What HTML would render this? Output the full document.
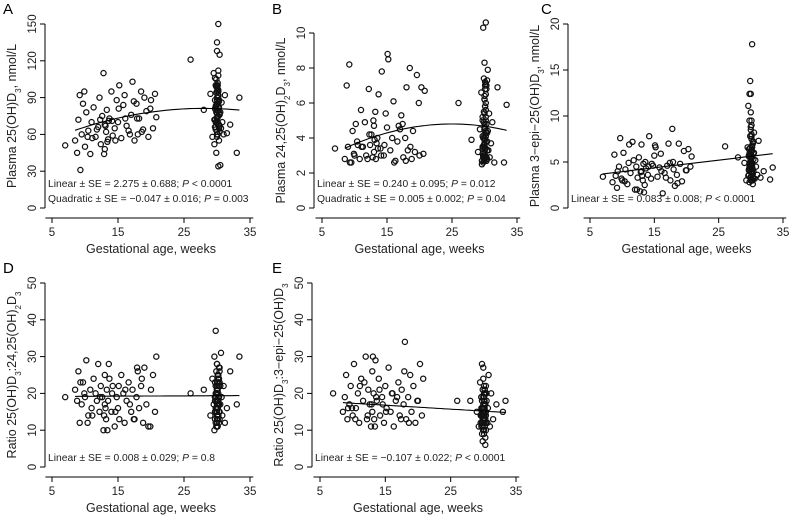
<!DOCTYPE html>
<html><head><meta charset="utf-8"><style>
html,body{margin:0;padding:0;background:#fff;}
svg{display:block;font-family:"Liberation Sans",Arial,sans-serif;}
</style></head><body>
<svg id="fig" width="797" height="515" viewBox="0 0 797 515"></svg>
<script>
// shared gestational ages (weeks)
const gaWeeks = [8.5,8.8,9,9.2,9.5,9.7,10,10.2,10.5,10.8,11,11.3,11.6,12,12.2,12.4,12.6,12.8,13,13,13.2,13.3,13.5,13.7,14,14.2,14.5,14.8,15,15.2,15.5,15.8,16,16.3,16.6,17,17.2,17.5,17.8,18,18.2,18.5,18.8,19,19.3,19.6,20,20.3,20.6,7,9.3,10.4,11.8,12.9,13.4,14.1,15.1,16.8,17.9,18.6,19.9,20.8,12.3,13.1,14.6,16.1,17.4,9.9,11.1,13.6,
26,28,29,29.3,29.5,29.6,29.7,29.8,29.9,29.9,30,30,30,30,30,30,30.1,30.1,30.1,30.2,30.2,30.3,30.3,30.4,30.5,30.6,30.7,30.8,31,31.2,31.5,32,33,33.4,29.8,30,30,30.1,30.2,29.9,30,30.1,30,29.7,30.3,30,30.1,30.5,29.6,30.2,
29.8,30,30.2,30.4,29.9,30.1,30.3,30,29.7,30.2,29.8,30,30.2,30.4,29.9,30.1,30.3,30,29.7,30.2,29.8,30,30.2,30.4,29.9,30.1,30.3,30,29.7,30.2,29.8,30,30.2,30.4,29.9,30.1,30.3,30,29.7,30.2];
const valuesA = [55,45,72,92,60,85,50,78,63,44,70,82,58,66,90,52,75,110,68,48,62,80,56,73,95,59,65,88,70,100,57,84,92,67,63,76,103,55,85,60,73,95,64,90,79,58,88,65,93,51,31,58,64,44,54,71,81,60,73,62,81,74,72,67,55,73,87,95,57,71,
121,80,93,58,110,72,88,66,105,45,80,95,70,135,85,62,75,100,90,68,112,55,82,125,78,65,86,70,60,92,61,68,45,90,100,77,84,74,150,82,98,60,88,72,65,128,75,35,52,34,
70,85,95,62,78,102,88,74,66,92,80,58,108,76,84,97,68,90,72,86,64,100,82,77,94,70,88,60,106,79,83,73,91,67,99,75,87,69,81,96];
const valuesB = [2.8,7.0,3.5,8.2,2.6,4.4,3.0,4.8,3.6,2.8,5.6,3.5,4.9,2.8,6.8,3.6,4.2,2.9,4.7,3.2,5.5,2.8,4.0,6.5,3.4,7.8,3.0,5.4,4.6,8.5,3.3,4.0,6.1,2.7,3.8,4.5,5.3,2.9,4.0,6.9,3.3,8.0,2.8,4.4,3.2,7.6,3.0,6.9,3.1,3.4,2.6,3.8,3.0,5.0,3.7,3.0,8.8,4.7,2.7,3.5,6.0,6.7,4.2,3.9,3.6,2.6,4.8,3.1,3.5,3.4,
6.0,3.9,3.2,4.5,6.6,2.7,5.2,3.5,7.4,2.7,4.0,6.2,3.0,8.3,4.5,2.8,5.8,3.4,7.2,4.1,5.0,2.9,6.8,3.8,4.4,3.3,5.4,2.9,3.7,4.9,2.6,6.9,2.6,5.9,10.3,3.6,4.8,3.0,10.6,5.5,3.2,7.0,4.2,3.5,2.7,6.4,3.9,7.9,2.5,4.3,
3.0,4.2,5.6,2.8,3.6,6.8,4.8,3.2,5.0,2.9,4.0,6.2,3.4,7.3,2.7,4.6,3.8,5.4,3.1,4.4,2.6,3.9,6.0,3.3,4.9,2.8,7.0,3.5,4.1,5.2,2.9,3.7,6.5,4.3,3.0,5.8,2.7,4.5,3.4,7.1];
const valuesC = [2.8,5.8,3.5,2.2,4.5,7.6,3.0,6.0,4.2,2.6,4.9,3.8,7.2,2.0,4.5,3.3,5.5,1.8,4.0,6.9,3.0,4.8,2.5,4.3,3.6,7.8,3.2,4.6,5.7,6.6,3.4,4.4,5.9,1.6,3.8,4.6,7.0,3.0,8.6,4.2,2.4,3.6,7.0,4.8,2.9,6.2,4.1,6.4,4.5,3.4,4.0,2.9,5.2,3.9,1.7,4.5,6.8,3.3,5.0,2.7,4.1,5.6,2.0,3.5,4.8,4.0,4.9,3.2,6.9,5.0,
6.7,5.5,4.9,3.0,6.6,3.5,5.7,2.8,7.8,4.2,5.0,8.5,3.3,10.4,4.6,3.0,6.3,3.8,9.0,4.4,5.5,2.6,7.2,4.0,6.0,3.2,5.2,4.5,3.6,7.3,3.3,4.0,3.1,4.4,12.4,5.8,4.7,3.5,17.8,13.8,6.2,9.5,5.0,4.2,3.0,12.4,4.8,8.2,11.1,5.6,
4.5,5.5,6.8,3.2,5.0,7.5,4.2,5.8,3.6,6.2,4.8,8.8,3.0,5.3,6.5,4.0,7.0,3.4,5.6,4.4,9.5,5.1,3.8,6.0,4.6,7.8,3.3,5.4,4.1,6.6,5.9,3.1,4.9,7.2,4.3,8.0,3.7,5.2,6.4,4.7];
const valuesD = [21,18,26,12,17,23,19,29,14,21,16,24,20,28,15,22,19,10,25,17,13,21,18,24,15,22,11,19,16,13,25,20,12,18,23,15,21,13,19,26,16,22,12,27,17,11,21,25,15,19,23,12,18,14,10,20,22,17,27,24,11,30,19,16,15,21,13,20,14,28,
20,21,14,24,17,30,19,12,26,16,21,14,28,18,11,22,16,25,13,20,18,27,15,23,17,31,19,14,22,12,16,26,17,30,37,20,15,18,24,11,21,17,28,13,19,23,16,22,10,25,
15,18,22,13,20,25,17,12,19,23,16,21,14,27,18,11,24,20,15,17,22,13,19,26,16,21,12,18,23,14,20,17,25,15,19,13,22,16,18,24];
const valuesE = [15,19,25,13,17,22,14,28,16,20,12,24,18,30,13,21,17,11,26,15,20,13,29,18,24,14,19,12,22,16,27,15,20,11,18,23,14,21,17,34,13,19,25,15,22,12,18,28,14,20,16,13,23,17,11,21,15,19,26,12,18,24,14,30,17,20,13,16,22,19,
18,18,15,11,23,14,19,9,21,13,16,24,12,27,15,10,19,13,22,15,17,8,20,14,18,12,16,25,11,20,13,17,15,18,28,14,10,16,21,7,15,18,13,19,6,17,14,20,12,16,
12,15,18,10,14,20,13,16,11,17,14,19,12,22,15,9,17,13,16,11,18,14,21,12,15,10,17,13,19,14,16,12,20,15,11,18,13,16,14,21];
// fit coefficients [a, b, c] : y = a + b*x + c*x^2
const fitA = [44.4, 2.63, -0.047];
const fitB = [1.6125, 0.255, -0.0051];
const fitC = [3.128, 0.083, 0];
const fitD = [19.13, 0.008, 0];
const fitE = [18.4, -0.107, 0];
const xTicks = [5,15,25,35];
const yTicksA = [0,30,60,90,120,150];
const yTicksB = [0,2,4,6,8,10];
const yTicksC = [0,5,10,15,20];
const yTicksR = [0,10,20,30,40,50];

const NS="http://www.w3.org/2000/svg";
const svg=document.getElementById('fig');
function mk(tag,attrs,parent){const e=document.createElementNS(NS,tag);for(const k in attrs)e.setAttribute(k,attrs[k]);(parent||svg).appendChild(e);return e;}

const panels=[
 {id:'a',letter:'A',lx:3,ly:14,axX:45,x5:52,x35:250,y0:208,yTop:24,ticks:yTicksA,vals:valuesA,fit:fitA,
  title:[['Plasma 25(OH)D',''],['3','sub'],[', nmol/L','']],ann:[['Linear ± SE = 2.275 ± 0.688; ','P',' < 0.0001'],['Quadratic ± SE = −0.047 ± 0.016; ','P',' = 0.003']]},
 {id:'b',letter:'B',lx:272,ly:14,axX:314,x5:322,x35:517,y0:208,yTop:33,ticks:yTicksB,vals:valuesB,fit:fitB,
  title:[['Plasma 24,25(OH)',''],['2','sub'],['D',''],['3','sub'],[', nmol/L','']],ann:[['Linear ± SE = 0.240 ± 0.095; ','P',' = 0.012'],['Quadratic ± SE = 0.005 ± 0.002; ','P',' = 0.04']]},
 {id:'c',letter:'C',lx:541,ly:14,axX:568,x5:590,x35:783,y0:208,yTop:24,ticks:yTicksC,vals:valuesC,fit:fitC,
  title:[['Plasma 3−epi−25(OH)D',''],['3','sub'],[', nmol/L','']],ann:[null,['Linear ± SE = 0.083 ± 0.008; ','P',' < 0.0001']]},
 {id:'d',letter:'D',lx:3,ly:273,axX:45,x5:52,x35:250,y0:467,yTop:283,ticks:yTicksR,vals:valuesD,fit:fitD,
  title:[['Ratio 25(OH)D',''],['3','sub'],[':24,25(OH)',''],['2','sub'],['D',''],['3','sub']],ann:[null,['Linear ± SE = 0.008 ± 0.029; ','P',' = 0.8']]},
 {id:'e',letter:'E',lx:272,ly:273,axX:312,x5:320,x35:516,y0:467,yTop:283,ticks:yTicksR,vals:valuesE,fit:fitE,
  title:[['Ratio 25(OH)D',''],['3','sub'],[':3−epi−25(OH)D',''],['3','sub']],ann:[null,['Linear ± SE = −0.107 ± 0.022; ','P',' < 0.0001']]}
];

panels.forEach(p=>{
 const g=mk('g',{});
 
 
 const tmax=p.ticks[p.ticks.length-1];
 const sx=v=>p.x5+(v-5)*(p.x35-p.x5)/30;
 const sy=v=>p.y0-(v)*(p.y0-p.yTop)/tmax;
 const xb=p.y0+10;
 const lab=mk('text',{x:p.lx,y:p.ly,'font-size':15},g);lab.textContent=p.letter;
 
 
 const ya=mk('line',{x1:p.axX,x2:p.axX,y1:sy(tmax),y2:sy(0),stroke:'#000','stroke-width':1},g);
 
 
 p.ticks.forEach(t=>{
  mk('line',{x1:p.axX-5,x2:p.axX,y1:sy(t),y2:sy(t),stroke:'#000'},g);
  const tx=mk('text',{x:0,y:0,'font-size':11.5,'text-anchor':'middle',fill:'#222',transform:`translate(${p.axX-9},${sy(t)}) rotate(-90)`},g);
  tx.textContent=t;
  
  
 });
 const xa=mk('line',{x1:sx(4),x2:sx(35.5),y1:xb,y2:xb,stroke:'#000'},g);
 
 
 xTicks.forEach(t=>{
  mk('line',{x1:sx(t),x2:sx(t),y1:xb,y2:xb+5,stroke:'#000'},g);
  const tx=mk('text',{x:sx(t),y:xb+18,'font-size':11.5,'text-anchor':'middle',fill:'#222'},g);
  tx.textContent=t;
  
  
 });
 const xt=mk('text',{x:(p.x5+p.x35)/2,y:xb+35,'font-size':12.5,'text-anchor':'middle',fill:'#222'},g);
 xt.textContent='Gestational age, weeks';
 
 
 const yt=mk('text',{x:0,y:0,'font-size':12.5,'text-anchor':'middle',fill:'#222',transform:`translate(${p.axX-29},${(sy(0)+sy(tmax))/2}) rotate(-90)`},g);
 
 
 p.title.forEach(([s,k])=>{const ts=mk('tspan',k?{'baseline-shift':'sub','font-size':8}:{},yt);ts.textContent=s;});
 gaWeeks.forEach((x,i)=>{
  const c=mk('circle',{cx:sx(x).toFixed(1),cy:sy(p.vals[i]).toFixed(1),r:2.6,fill:'none',stroke:'#111','stroke-width':1.25},g);
  
  
 });
 let d='';
 const x0=p.id==='c'?7:8.5, x1=33.4;
 for(let k=0;k<=40;k++){const x=x0+(x1-x0)*k/40;const y=p.fit[0]+p.fit[1]*x+p.fit[2]*x*x;d+=(k?'L':'M')+sx(x).toFixed(1)+','+sy(y).toFixed(1);}
 const fl=mk('path',{d:d,fill:'none',stroke:'#000','stroke-width':1.1},g);
 
 
 p.ann.forEach((a,j)=>{
  if(!a)return;
  const t=mk('text',{x:p.axX+3,y:p.y0-21+j*15,'font-size':10.3,fill:'#222'},g);
  
  
  mk('tspan',{},t).textContent=a[0];
  mk('tspan',{'font-style':'italic'},t).textContent=a[1];
  mk('tspan',{},t).textContent=a[2];
 });
});
</script>
</body></html>
